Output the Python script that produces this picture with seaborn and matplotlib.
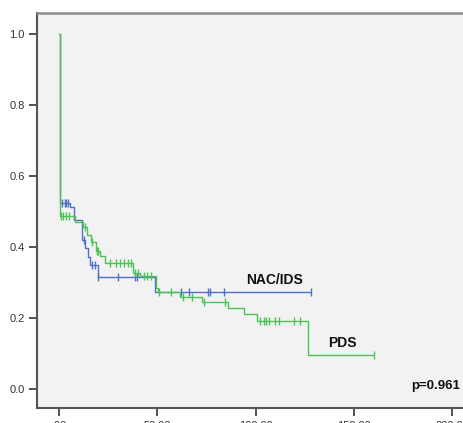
import numpy as np
import pandas as pd
import matplotlib
matplotlib.use("Agg")
import matplotlib.pyplot as plt
import seaborn as sns

# ---- data (Kaplan-Meier steps) ----
nac_times = [0.0, 0.3, 5.5, 7.5, 11.5, 13.2, 14.8, 15.8, 19.8, 49.0, 128.0]
nac_surv = [1.0, 0.524, 0.512, 0.476, 0.42, 0.397, 0.372, 0.35, 0.316, 0.273, 0.273]
nac_censor = [1.5, 3.0, 3.5, 4.5, 12.5, 17.0, 18.5, 20.0, 30.0, 38.5, 39.5,
              62.0, 66.0, 76.0, 77.0, 84.0, 128.0]

pds_times = [0.0, 0.5, 8.0, 12.0, 14.0, 16.5, 19.0, 21.0, 23.5, 37.5, 41.0,
             49.5, 50.5, 61.5, 72.7, 86.0, 94.0, 100.7, 126.7, 160.2]
pds_surv = [1.0, 0.487, 0.47, 0.455, 0.435, 0.415, 0.39, 0.375, 0.355, 0.327,
            0.318, 0.285, 0.273, 0.259, 0.245, 0.228, 0.211, 0.192, 0.096, 0.096]
pds_censor = [1.0, 2.0, 3.5, 5.0, 13.0, 17.0, 19.5, 20.0, 26.0, 29.0, 31.0,
              33.0, 35.0, 36.5, 38.5, 40.0, 43.0, 45.0, 47.0, 51.0, 57.0,
              63.0, 67.5, 74.0, 84.5, 102.0, 104.5, 105.5, 107.0, 110.0,
              112.0, 119.5, 122.5, 160.2]

x_ticks = [0, 50, 100, 150, 200]
x_tick_labels = [".00", "50.00", "100.00", "150.00", "200.00"]
y_ticks = [0.0, 0.2, 0.4, 0.6, 0.8, 1.0]
y_tick_labels = ["0.0", "0.2", "0.4", "0.6", "0.8", "1.0"]

labels = ["NAC/IDS", "PDS"]
p_text = "p=0.961"

BLUE = "#4f70c9"
GREEN = "#4cc455"


def surv_at(times, surv, t):
    idx = np.searchsorted(np.asarray(times), np.asarray(t), side="right") - 1
    return np.asarray(surv)[idx]


sns.set_style("white")
plt.rcParams["font.family"] = ["Liberation Sans", "DejaVu Sans"]

fig = plt.figure(figsize=(4.64, 4.23), dpi=100)
ax = fig.add_axes([37 / 464, 1 - 408 / 423, 1 - 37 / 464, (408 - 13) / 423])
ax.set_facecolor("#f2f2f2")

nac_df = pd.DataFrame({"t": nac_times, "s": nac_surv})
pds_df = pd.DataFrame({"t": pds_times, "s": pds_surv})

sns.lineplot(data=nac_df, x="t", y="s", ax=ax, color=BLUE, lw=1.0,
             drawstyle="steps-post", estimator=None, sort=False, zorder=3)
sns.lineplot(data=pds_df, x="t", y="s", ax=ax, color=GREEN, lw=1.0,
             drawstyle="steps-post", estimator=None, sort=False, zorder=4)

nac_c = pd.DataFrame({"t": nac_censor, "s": surv_at(nac_times, nac_surv, nac_censor)})
pds_c = pd.DataFrame({"t": pds_censor, "s": surv_at(pds_times, pds_surv, pds_censor)})
sns.scatterplot(data=nac_c, x="t", y="s", ax=ax, marker="|", s=40,
                color=BLUE, linewidth=1.0, zorder=3)
sns.scatterplot(data=pds_c, x="t", y="s", ax=ax, marker="|", s=40,
                color=GREEN, linewidth=1.0, zorder=4)

ax.set_xlim(-11.2, 206.0)
ax.set_ylim(-0.0535, 1.059)
ax.set_xticks(x_ticks)
ax.set_xticklabels(x_tick_labels)
ax.set_yticks(y_ticks)
ax.set_yticklabels(y_tick_labels)
ax.set_xlabel("")
ax.set_ylabel("")
ax.tick_params(axis="both", direction="out", length=6, width=1.3,
               color="#444444", labelsize=8, labelcolor="#333333", pad=3)
ax.tick_params(axis="x", bottom=True)
ax.tick_params(axis="y", left=True)

for side in ["left", "bottom"]:
    ax.spines[side].set_color("#555555")
    ax.spines[side].set_linewidth(1.5)
ax.spines["top"].set_color("#8a8a8a")
ax.spines["top"].set_linewidth(1.8)
ax.spines["right"].set_visible(False)

ax.text(109.4, 0.307, labels[0], fontsize=10, fontweight="bold",
        ha="center", va="center", color="#111111")
ax.text(144.0, 0.13, labels[1], fontsize=10, fontweight="bold",
        ha="center", va="center", color="#111111")
ax.text(191.8, 0.008, p_text, fontsize=9.5, fontweight="bold",
        ha="center", va="center", color="#111111")

fig.savefig("out.png", dpi=100, facecolor="white")
